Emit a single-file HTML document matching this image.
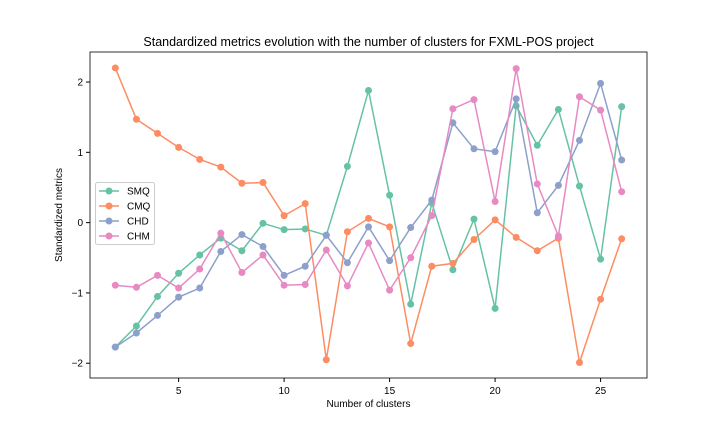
<!DOCTYPE html>
<html><head><meta charset="utf-8"><style>
body{margin:0;background:#fff;font-family:"Liberation Sans","DejaVu Sans",sans-serif}
</style></head><body>
<svg id="chart" width="720" height="432" xmlns="http://www.w3.org/2000/svg" font-family="Liberation Sans, DejaVu Sans, sans-serif"></svg>
<script>
const clusters=[2,3,4,5,6,7,8,9,10,11,12,13,14,15,16,17,18,19,20,21,22,23,24,25,26];
const smq=[-1.77,-1.47,-1.05,-0.72,-0.46,-0.22,-0.40,-0.01,-0.10,-0.09,-0.18,0.80,1.88,0.39,-1.16,0.28,-0.67,0.05,-1.22,1.66,1.10,1.61,0.52,-0.52,1.65];
const cmq=[2.20,1.47,1.27,1.07,0.90,0.79,0.56,0.57,0.10,0.27,-1.95,-0.13,0.06,-0.06,-1.72,-0.62,-0.58,-0.24,0.04,-0.21,-0.40,-0.22,-1.99,-1.09,-0.23];
const chd=[-1.77,-1.57,-1.32,-1.06,-0.93,-0.41,-0.17,-0.34,-0.75,-0.62,-0.18,-0.57,-0.06,-0.54,-0.07,0.32,1.42,1.05,1.01,1.76,0.14,0.53,1.17,1.98,0.89];
const chm=[-0.89,-0.92,-0.75,-0.93,-0.66,-0.15,-0.71,-0.46,-0.89,-0.88,-0.39,-0.90,-0.29,-0.96,-0.50,0.10,1.62,1.75,0.30,2.19,0.55,-0.19,1.79,1.60,0.44];
const xTicks=[5,10,15,20,25];
const yTicks=[-2,-1,0,1,2];
const seriesNames=["SMQ","CMQ","CHD","CHM"];
const seriesColors=["#66c2a5","#fc8d62","#8da0cb","#e78ac3"];
const L=90,R=647,T=52,B=378,x0=0.8,x1=27.2,y0=-2.21,y1=2.427;
const sx=v=>L+(v-x0)/(x1-x0)*(R-L);
const sy=v=>B-(v-y0)/(y1-y0)*(B-T);
const svg=document.getElementById('chart');
const NS='http://www.w3.org/2000/svg';
function mk(tag,attrs,parent){const e=document.createElementNS(NS,tag);for(const k in attrs)e.setAttribute(k,attrs[k]);(parent||svg).appendChild(e);return e;}
const title=mk('text',{x:(L+R)/2,y:46,'text-anchor':'middle','font-size':12.5,fill:'#000'});
title.textContent='Standardized metrics evolution with the number of clusters for FXML-POS project';


xTicks.forEach(t=>{const g=mk('g',{});


mk('line',{x1:sx(t),x2:sx(t),y1:B,y2:B+4,stroke:'#000'},g);
const tx=mk('text',{x:sx(t),y:B+16,'text-anchor':'middle','font-size':10},g);tx.textContent=t;});
yTicks.forEach(t=>{const g=mk('g',{});


mk('line',{x1:L-4,x2:L,y1:sy(t),y2:sy(t),stroke:'#000'},g);
const tx=mk('text',{x:L-7,y:sy(t)+3.5,'text-anchor':'end','font-size':10},g);tx.textContent=t<0?'\u2212'+(-t):t;});
const xl=mk('text',{x:(L+R)/2,y:407,'text-anchor':'middle','font-size':10});xl.textContent='Number of clusters';


const yl=mk('text',{x:0,y:0,'text-anchor':'middle','font-size':10,transform:`translate(62,${(T+B)/2}) rotate(-90)`});yl.textContent='Standardized metrics';


[smq,cmq,chd,chm].forEach((s,i)=>{const g=mk('g',{});


mk('polyline',{points:s.map((v,j)=>sx(clusters[j])+','+sy(v)).join(' '),fill:'none',stroke:seriesColors[i],'stroke-width':1.5},g);
s.forEach((v,j)=>{const c=mk('circle',{cx:sx(clusters[j]),cy:sy(v),r:3.5,fill:seriesColors[i]},g);

});});
const fr=mk('rect',{x:L,y:T,width:R-L,height:B-T,fill:'none',stroke:'#000','stroke-width':0.8});


const lg=mk('g',{});


mk('rect',{x:95.5,y:182.5,width:59,height:62,rx:2,fill:'#fff','fill-opacity':0.8,stroke:'#ccc'},lg);
seriesNames.forEach((n,i)=>{const y=191+i*15;const e=mk('g',{},lg);


mk('line',{x1:99,x2:119,y1:y,y2:y,stroke:seriesColors[i],'stroke-width':1.5},e);
mk('circle',{cx:109,cy:y,r:3.5,fill:seriesColors[i]},e);
const t=mk('text',{x:127,y:y+3.5,'font-size':10},e);t.textContent=n;});
</script>
</body></html>
